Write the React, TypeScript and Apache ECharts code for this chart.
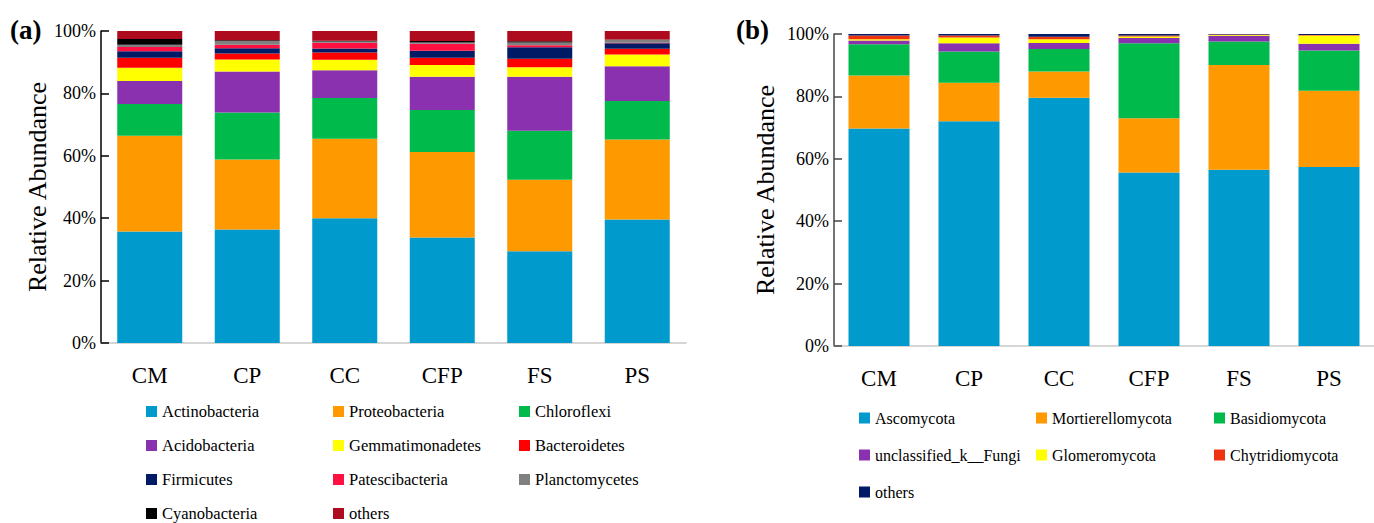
import React, { useEffect, useRef } from "react";
import * as echarts from "echarts";

const samples = ["CM", "CP", "CC", "CFP", "FS", "PS"];
const yTicks = [0, 20, 40, 60, 80, 100];

// (a) bacteria, % per sample
const bacteriaNames = [
  "Actinobacteria", "Proteobacteria", "Chloroflexi", "Acidobacteria",
  "Gemmatimonadetes", "Bacteroidetes", "Firmicutes", "Patescibacteria",
  "Planctomycetes", "Cyanobacteria", "others",
];
const bacteriaColors = [
  "#009ACD", "#FF9900", "#00BA4B", "#8A31AF", "#FFFF00", "#FF0000",
  "#001A66", "#FF1040", "#808080", "#000000", "#AF0B1E",
];
const actinobacteria = [35.7, 36.4, 40.0, 33.8, 29.4, 39.6];
const proteobacteria = [30.7, 22.4, 25.5, 27.4, 22.9, 25.6];
const chloroflexi = [10.2, 15.1, 13.0, 13.5, 15.7, 12.4];
const acidobacteria = [7.4, 13.1, 8.9, 10.6, 17.3, 11.1];
const gemmatimonadetes = [4.2, 3.9, 3.4, 3.8, 3.1, 3.8];
const bacteroidetes = [3.2, 1.9, 2.3, 2.3, 2.7, 1.8];
const firmicutes = [2.1, 1.7, 1.3, 2.3, 3.7, 1.8];
const patescibacteria = [1.4, 1.1, 1.8, 2.2, 0.6, 0.1];
const planctomycetes = [0.7, 1.2, 0.4, 0.4, 0.9, 1.0];
const cyanobacteria = [1.8, 0.2, 0.3, 0.5, 0.4, 0.1];
const bacteriaOthers = [2.6, 3.0, 3.1, 3.2, 3.3, 2.7];
const bacteriaValues = [
  actinobacteria, proteobacteria, chloroflexi, acidobacteria, gemmatimonadetes,
  bacteroidetes, firmicutes, patescibacteria, planctomycetes, cyanobacteria, bacteriaOthers,
];

// (b) fungi, % per sample
const fungiNames = [
  "Ascomycota", "Mortierellomycota", "Basidiomycota", "unclassified_k__Fungi",
  "Glomeromycota", "Chytridiomycota", "others ",
];
const fungiColors = ["#009ACD", "#FF9900", "#00BA4B", "#8A31AF", "#FFFF00", "#EE3311", "#001A66"];
const ascomycota = [69.7, 72.0, 79.6, 55.6, 56.5, 57.4];
const mortierellomycota = [17.0, 12.4, 8.4, 17.4, 33.6, 24.4];
const basidiomycota = [10.0, 10.0, 7.2, 24.0, 7.5, 12.9];
const unclassifiedFungi = [1.2, 2.6, 1.9, 1.7, 1.8, 2.2];
const glomeromycota = [0.4, 1.9, 1.2, 0.5, 0.3, 2.6];
const chytridiomycota = [1.2, 0.6, 0.8, 0.3, 0.1, 0.2];
const fungiOthers = [0.5, 0.5, 0.9, 0.5, 0.2, 0.3];
const fungiValues = [
  ascomycota, mortierellomycota, basidiomycota, unclassifiedFungi,
  glomeromycota, chytridiomycota, fungiOthers,
];

const FONT = "'Liberation Serif', 'Times New Roman', serif";

export default function App() {
  const ref = useRef<HTMLDivElement>(null);
  useEffect(() => {
    if (!ref.current) return;
    const chart = echarts.init(ref.current, null, { renderer: "svg" });

    const makeX = (gridIndex: number) => ({
      type: "category",
      gridIndex,
      data: samples,
      axisLine: { lineStyle: { color: "#c8c8c8", width: 1.5 } },
      axisTick: { inside: true, length: 9, lineStyle: { color: "#555", width: 1.5 } },
      axisLabel: { fontFamily: FONT, fontSize: 23, color: "#000", margin: 21 },
    });
    const makeY = (gridIndex: number, lineColor: string, nameGap: number) => ({
      type: "value",
      gridIndex,
      min: 0,
      max: 100,
      interval: 20,
      name: "Relative Abundance",
      nameLocation: "middle",
      nameGap,
      nameTextStyle: { fontFamily: FONT, fontSize: 26, color: "#000" },
      axisLine: { show: true, lineStyle: { color: lineColor, width: 1.5 } },
      axisTick: { show: true, inside: true, length: 8, lineStyle: { color: lineColor, width: 1.5 } },
      splitLine: { show: false },
      axisLabel: {
        fontFamily: FONT, fontSize: 18, color: "#000", margin: 5,
        formatter: (v: number) => (yTicks.includes(v) ? v + "%" : ""),
      },
    });

    const legendBase = {
      orient: "vertical",
      padding: 0,
      icon: "rect",
      itemWidth: 11,
      itemHeight: 11,
      height: 220,
      selectedMode: false,
    };
    const colA = [0, 1, 2].map((c) => bacteriaNames.filter((_, i) => i % 3 === c));
    const colB = [0, 1, 2].map((c) => fungiNames.filter((_, i) => i % 3 === c));
    const legendsA = colA.map((names, c) => ({
      ...legendBase, data: names, left: [146, 333, 519][c], top: 403, itemGap: 17,
      textStyle: { fontFamily: FONT, fontSize: 16.5, color: "#000", lineHeight: 16 },
    }));
    const legendsB = colB.map((names, c) => ({
      ...legendBase, data: names, left: [859, 1036, 1214][c], top: 410, itemGap: 21,
      textStyle: { fontFamily: FONT, fontSize: 16, color: "#000", lineHeight: 16 },
      formatter: (n: string) => n.trim(),
    }));

    const seriesA = bacteriaNames.map((name, i) => ({
      name, type: "bar", stack: "a", xAxisIndex: 0, yAxisIndex: 0,
      barWidth: 65, data: bacteriaValues[i],
      itemStyle: { color: bacteriaColors[i] },
    }));
    const seriesB = fungiNames.map((name, i) => ({
      name, type: "bar", stack: "b", xAxisIndex: 1, yAxisIndex: 1,
      barWidth: 61, data: fungiValues[i],
      itemStyle: { color: fungiColors[i] },
    }));

    chart.setOption({
      animation: false,
      backgroundColor: "#fff",
      title: [
        { text: "(a)", left: 10, top: 16, padding: 0, textStyle: { fontFamily: FONT, fontSize: 27, fontWeight: "bold", color: "#000" } },
        { text: "(b)", left: 736, top: 16, padding: 0, textStyle: { fontFamily: FONT, fontSize: 27, fontWeight: "bold", color: "#000" } },
      ],
      grid: [
        { left: 101, top: 31, width: 585, height: 312 },
        { left: 834, top: 34, width: 546, height: 312 },
      ],
      xAxis: [makeX(0), makeX(1)],
      yAxis: [makeY(0, "#000", 50), makeY(1, "#444", 56)],
      legend: [...legendsA, ...legendsB],
      series: [...seriesA, ...seriesB],
    } as any);
    return () => chart.dispose();
  }, []);
  return (
    <div
      ref={ref}
      style={{ position: "fixed", left: 0, top: 0, width: 1374, height: 523 }}
    />
  );
}
